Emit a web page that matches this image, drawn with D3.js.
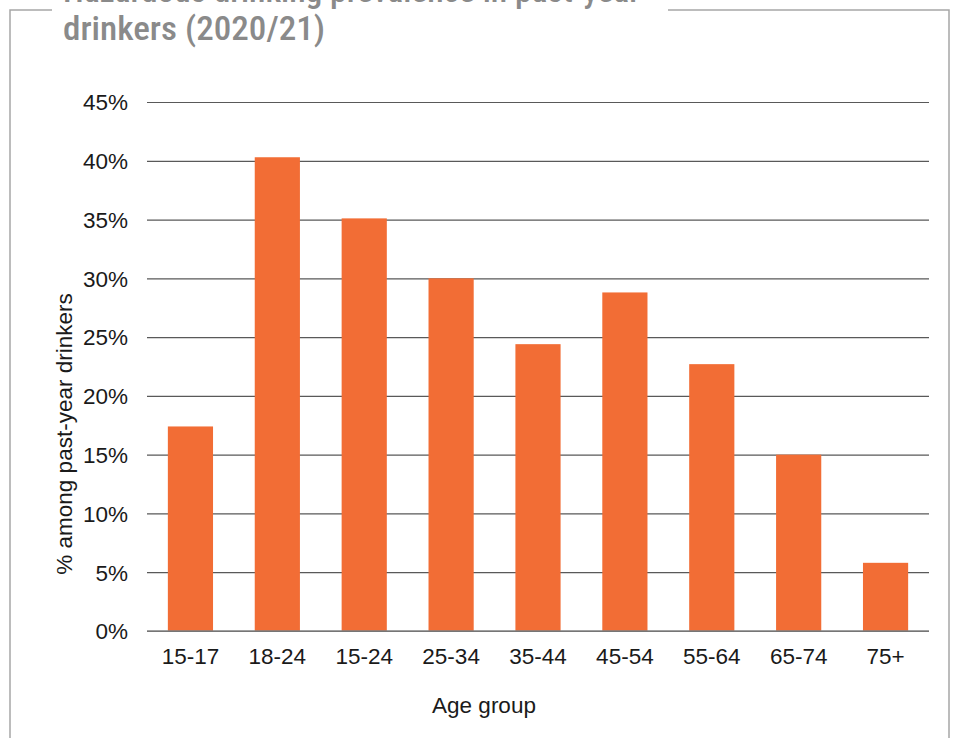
<!DOCTYPE html>
<html>
<head>
<meta charset="utf-8">
<script src="https://cdn.jsdelivr.net/npm/d3@7"></script>
<style>
  html, body { margin: 0; padding: 0; background: #fff; }
  svg { display: block; font-family: "Liberation Sans", Arial, sans-serif; }
</style>
</head>
<body>
<div id="chart"></div>
<script>
// data
const ageGroups = ['15-17', '18-24', '15-24', '25-34', '35-44', '45-54', '55-64', '65-74', '75+'];
const prevalence = [17.4, 40.3, 35.1, 30.0, 24.4, 28.8, 22.7, 15.0, 5.8];
const yTicks = [0, 5, 10, 15, 20, 25, 30, 35, 40, 45];
const titleLines = ['Hazardous drinking prevalence in past-year', 'drinkers (2020/21)'];

const W = 957, H = 738;
const m = { t: 102, r: 28, b: 107, l: 147 };
const fs = 22.5;

const svg = d3.select('#chart').append('svg').attr('width', W).attr('height', H);

// frame with a gap for the title
const frame = svg.append('g').attr('fill', 'none').attr('stroke', '#a6a6a6').attr('stroke-width', 1.5);
frame.append('path').attr('d', `M52,10 H10 V${H + 5}`);
frame.append('path').attr('d', `M668,10 H949 V${H + 5}`);

// title (first line runs off the top, as in the source)
svg.append('g').selectAll('text').data(titleLines).join('text')
  .attr('x', 63).attr('y', (d, i) => 2 + i * 38)
  .attr('fill', '#8a8a8a')
  .attr('font-family', '"Roboto Condensed", "Liberation Sans Narrow", Roboto, sans-serif')
  .attr('font-weight', 500)
  .attr('font-size', 34)
  .attr('textLength', (d, i) => i === 0 ? 577 : 262)
  .attr('lengthAdjust', 'spacingAndGlyphs')
  .text(d => d);

const x = d3.scaleBand().domain(ageGroups).range([m.l, W - m.r]).paddingInner(0.48).paddingOuter(0.24);
const y = d3.scaleLinear().domain([0, 45]).range([H - m.b, m.t]);

// grid
svg.append('g').attr('transform', `translate(${m.l},0)`)
  .call(d3.axisLeft(y).tickValues(yTicks).tickSize(-(W - m.r - m.l)).tickFormat(d => d + '%'))
  .call(g => g.select('.domain').remove())
  .call(g => g.selectAll('.tick line').attr('stroke', '#595959').attr('stroke-width', 1.2))
  .call(g => g.selectAll('.tick text').attr('x', -19).attr('dy', '0.35em').attr('font-size', fs).attr('fill', '#1a1a1a').attr('font-family', '"Liberation Sans", Arial, sans-serif'));

// bars
svg.append('g').selectAll('rect').data(ageGroups).join('rect')
  .attr('x', d => x(d))
  .attr('width', x.bandwidth())
  .attr('y', (d, i) => y(prevalence[i]))
  .attr('height', (d, i) => y(0) - y(prevalence[i]))
  .attr('fill', '#F26D35');

// baseline
svg.append('line')
  .attr('x1', m.l).attr('x2', W - m.r)
  .attr('y1', y(0)).attr('y2', y(0))
  .attr('stroke', '#808080').attr('stroke-width', 1.5);

// x axis labels
svg.append('g').attr('transform', `translate(0,${y(0)})`)
  .call(d3.axisBottom(x).tickSize(0).tickPadding(17))
  .call(g => g.select('.domain').remove())
  .call(g => g.selectAll('.tick text').attr('font-size', fs).attr('fill', '#1a1a1a').attr('font-family', '"Liberation Sans", Arial, sans-serif'));

// axis titles
svg.append('text')
  .attr('x', 484).attr('y', 713)
  .attr('text-anchor', 'middle').attr('font-size', fs).attr('fill', '#1a1a1a')
  .text('Age group');

svg.append('text')
  .attr('transform', `translate(72,434) rotate(-90)`)
  .attr('text-anchor', 'middle').attr('font-size', fs).attr('fill', '#1a1a1a')
  .text('% among past-year drinkers');
</script>
</body>
</html>
